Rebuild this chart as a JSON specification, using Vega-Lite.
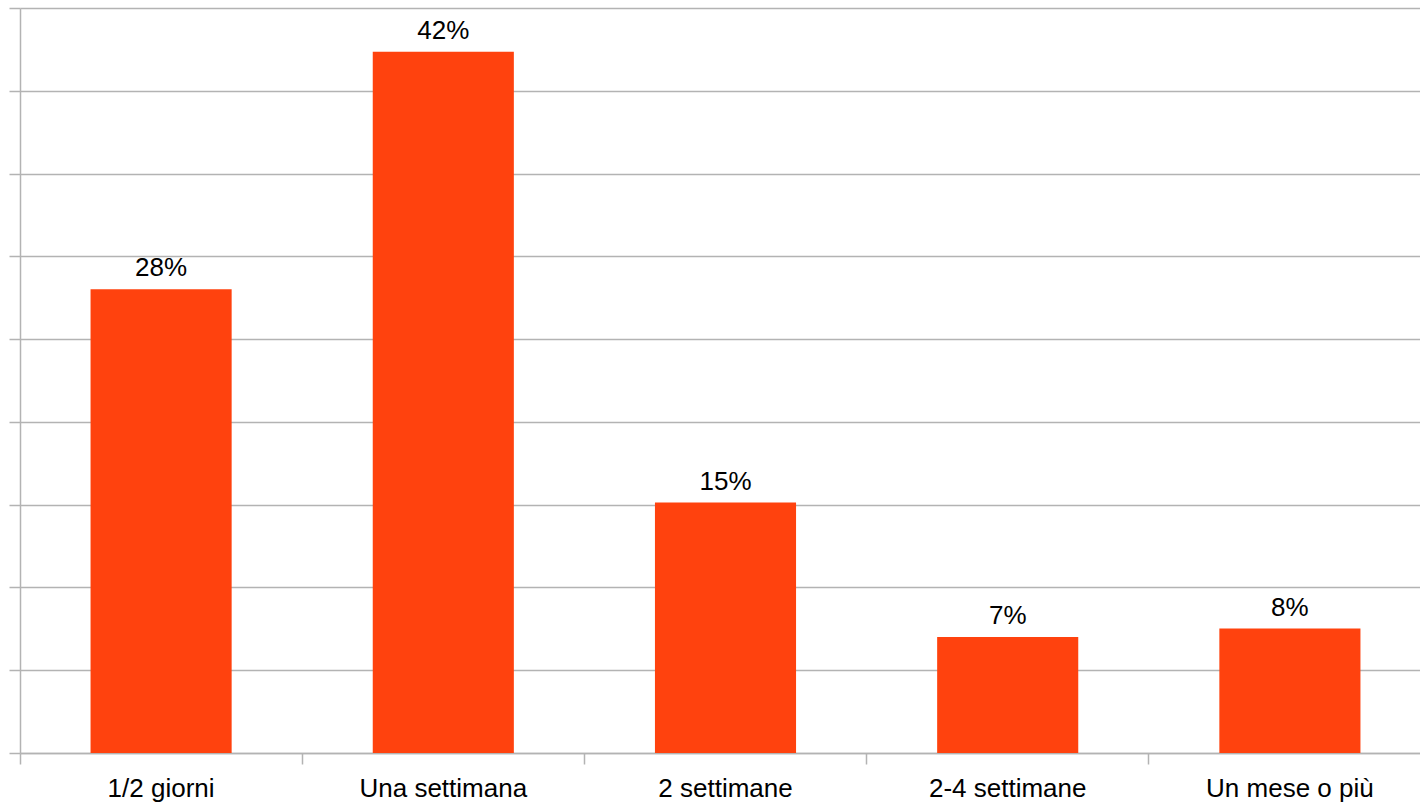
{
  "$schema": "https://vega.github.io/schema/vega-lite/v6.json",
  "autosize": {"type": "none"},
  "width": 1400,
  "height": 745,
  "padding": {"left": 20, "top": 8, "right": 0, "bottom": 51},
  "background": "white",
  "config": {"view": {"stroke": null}, "font": "Liberation Sans"},
  "data": {
    "values": [
      {"durata": "1/2 giorni", "quota": 0.2801},
      {"durata": "Una settimana", "quota": 0.4236},
      {"durata": "2 settimane", "quota": 0.1513},
      {"durata": "2-4 settimane", "quota": 0.0701},
      {"durata": "Un mese o più", "quota": 0.0752}
    ]
  },
  "encoding": {
    "x": {
      "field": "durata",
      "type": "nominal",
      "sort": null,
      "scale": {"paddingInner": 0.5, "paddingOuter": 0.25, "range": [0, 1411]},
      "axis": {
        "title": null,
        "labelAngle": 0,
        "labelFontSize": 26,
        "labelColor": "#000000",
        "labelPadding": 11,
        "labelFont": "Liberation Sans",
        "bandPosition": -0.5,
        "tickSize": 11,
        "tickColor": "#b3b3b3",
        "domainColor": "#b3b3b3",
        "tickWidth": 1.5,
        "domainWidth": 1.5
      }
    },
    "y": {
      "field": "quota",
      "type": "quantitative",
      "scale": {"domain": [0, 0.45], "nice": false},
      "axis": {
        "title": null,
        "labels": false,
        "values": [0, 0.05, 0.1, 0.15, 0.2, 0.25, 0.3, 0.35, 0.4, 0.45],
        "tickSize": 11,
        "tickColor": "#b3b3b3",
        "domainColor": "#b3b3b3",
        "gridColor": "#b3b3b3",
        "tickWidth": 1.5,
        "domainWidth": 1.5,
        "gridWidth": 1.5
      }
    }
  },
  "layer": [
    {"mark": {"type": "bar", "color": "#ff420e"}},
    {
      "mark": {"type": "text", "baseline": "bottom", "dy": -8, "fontSize": 26, "color": "#000000", "font": "Liberation Sans"},
      "encoding": {"text": {"field": "quota", "type": "quantitative", "format": ".0%"}}
    }
  ]
}
